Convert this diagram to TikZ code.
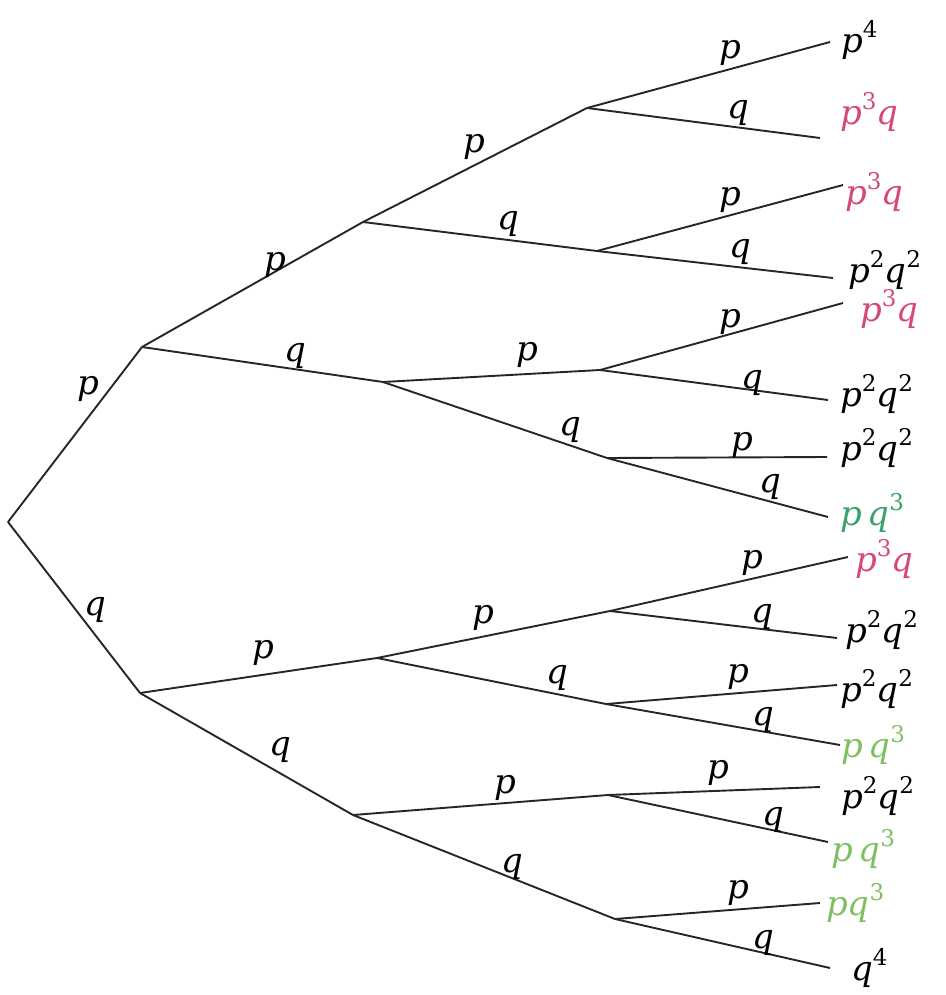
\documentclass[tikz,border=0pt]{standalone}
\usepackage{fontspec}
\setmainfont{DejaVu Serif}
\definecolor{pinkc}{RGB}{214,72,122}
\definecolor{greenc}{RGB}{60,160,110}
\definecolor{lgreenc}{RGB}{128,192,98}
\newcommand{\spx}[1]{\raisebox{0.45em}{\fontsize{23}{23}\selectfont\upshape #1}}
\begin{document}
\begin{tikzpicture}[x=1pt,y=-1pt,
  br/.style={line width=1.9pt, black!85},
  el/.style={font=\fontsize{34}{34}\selectfont\itshape, inner sep=0pt},
  leaf/.style={anchor=west, inner sep=0pt, font=\fontsize{34}{34}\selectfont\itshape}]
\useasboundingbox (0,0) rectangle (945,995);
% branch points
\coordinate (R) at (8,522);
\coordinate (A) at (142,347);
\coordinate (B) at (140,693);
\coordinate (AA) at (363,222);
\coordinate (AB) at (383,382);
\coordinate (BA) at (377,658);
\coordinate (BB) at (353,815);
\coordinate (AAA) at (587,108);
\coordinate (AAB) at (597,251);
\coordinate (ABA) at (600,370);
\coordinate (ABB) at (607,458);
\coordinate (BAA) at (610,611);
\coordinate (BAB) at (606,704);
\coordinate (BBA) at (608,795);
\coordinate (BBB) at (615,919);
% leaf ends
\coordinate (e1) at (830,42);
\coordinate (e2) at (820,138);
\coordinate (e3) at (843,185);
\coordinate (e4) at (833,278);
\coordinate (e5) at (843,303);
\coordinate (e6) at (828,400);
\coordinate (e7) at (827,457);
\coordinate (e8) at (828,517);
\coordinate (e9) at (848,557);
\coordinate (e10) at (837,638);
\coordinate (e11) at (837,685);
\coordinate (e12) at (840,745);
\coordinate (e13) at (820,787);
\coordinate (e14) at (828,842);
\coordinate (e15) at (820,903);
\coordinate (e16) at (830,968);
% edges
\draw[br] (R) -- (A);
\draw[br] (R) -- (B);
\draw[br] (A) -- (AA);
\draw[br] (A) -- (AB);
\draw[br] (B) -- (BA);
\draw[br] (B) -- (BB);
\draw[br] (AA) -- (AAA);
\draw[br] (AA) -- (AAB);
\draw[br] (AB) -- (ABA);
\draw[br] (AB) -- (ABB);
\draw[br] (BA) -- (BAA);
\draw[br] (BA) -- (BAB);
\draw[br] (BB) -- (BBA);
\draw[br] (BB) -- (BBB);
\draw[br] (AAA) -- (e1);
\draw[br] (AAA) -- (e2);
\draw[br] (AAB) -- (e3);
\draw[br] (AAB) -- (e4);
\draw[br] (ABA) -- (e5);
\draw[br] (ABA) -- (e6);
\draw[br] (ABB) -- (e7);
\draw[br] (ABB) -- (e8);
\draw[br] (BAA) -- (e9);
\draw[br] (BAA) -- (e10);
\draw[br] (BAB) -- (e11);
\draw[br] (BAB) -- (e12);
\draw[br] (BBA) -- (e13);
\draw[br] (BBA) -- (e14);
\draw[br] (BBB) -- (e15);
\draw[br] (BBB) -- (e16);
% edge labels
\node[el] (lRA) at (88,389) {p};
\node[el] (lRB) at (95,610) {q};
\node[el] (lAAA) at (275,265) {p};
\node[el] (lAB) at (295,356) {q};
\node[el] (lBA) at (263,653) {p};
\node[el] (lBB) at (280,750) {q};
\node[el] (lAA1) at (474,147) {p};
\node[el] (lAA2) at (508,224) {q};
\node[el] (lAB1) at (527,355) {p};
\node[el] (lAB2) at (570,430) {q};
\node[el] (lBA1) at (483,618) {p};
\node[el] (lBA2) at (557,678) {q};
\node[el] (lBB1) at (505,788) {p};
\node[el] (lBB2) at (512,867) {q};
\node[el] (l1) at (730,53) {p};
\node[el] (l2) at (738,113) {q};
\node[el] (l3) at (730,200) {p};
\node[el] (l4) at (740,252) {q};
\node[el] (l5) at (730,322) {p};
\node[el] (l6) at (752,383) {q};
\node[el] (l7) at (742,445) {p};
\node[el] (l8) at (770,487) {q};
\node[el] (l9) at (752,563) {p};
\node[el] (l10) at (762,617) {q};
\node[el] (l11) at (738,677) {p};
\node[el] (l12) at (763,720) {q};
\node[el] (l13) at (718,773) {p};
\node[el] (l14) at (773,820) {q};
\node[el] (l15) at (738,893) {p};
\node[el] (l16) at (763,943) {q};
% leaf labels
\node[leaf] (L1) at (841,40) {p\spx{4}};
\node[leaf, text=pinkc] (L2) at (840,112) {p\spx{3}q};
\node[leaf, text=pinkc] (L3) at (845,192) {p\spx{3}q};
\node[leaf] (L4) at (848,270) {p\spx{2}q\spx{2}};
\node[leaf, text=pinkc] (L5) at (860,309) {p\spx{3}q};
\node[leaf] (L6) at (840,394) {p\spx{2}q\spx{2}};
\node[leaf] (L7) at (840,448) {p\spx{2}q\spx{2}};
\node[leaf, text=greenc] (L8) at (840,513) {p\,q\spx{3}};
\node[leaf, text=pinkc] (L9) at (855,559) {p\spx{3}q};
\node[leaf] (L10) at (845,630) {p\spx{2}q\spx{2}};
\node[leaf] (L11) at (840,689) {p\spx{2}q\spx{2}};
\node[leaf, text=lgreenc] (L12) at (841,745) {p\,q\spx{3}};
\node[leaf] (L13) at (841,796) {p\spx{2}q\spx{2}};
\node[leaf, text=lgreenc] (L14) at (831,849) {p\,q\spx{3}};
\node[leaf, text=lgreenc] (L15) at (826,903) {pq\spx{3}};
\node[leaf] (L16) at (851,968) {q\spx{4}};
\end{tikzpicture}
\end{document}
